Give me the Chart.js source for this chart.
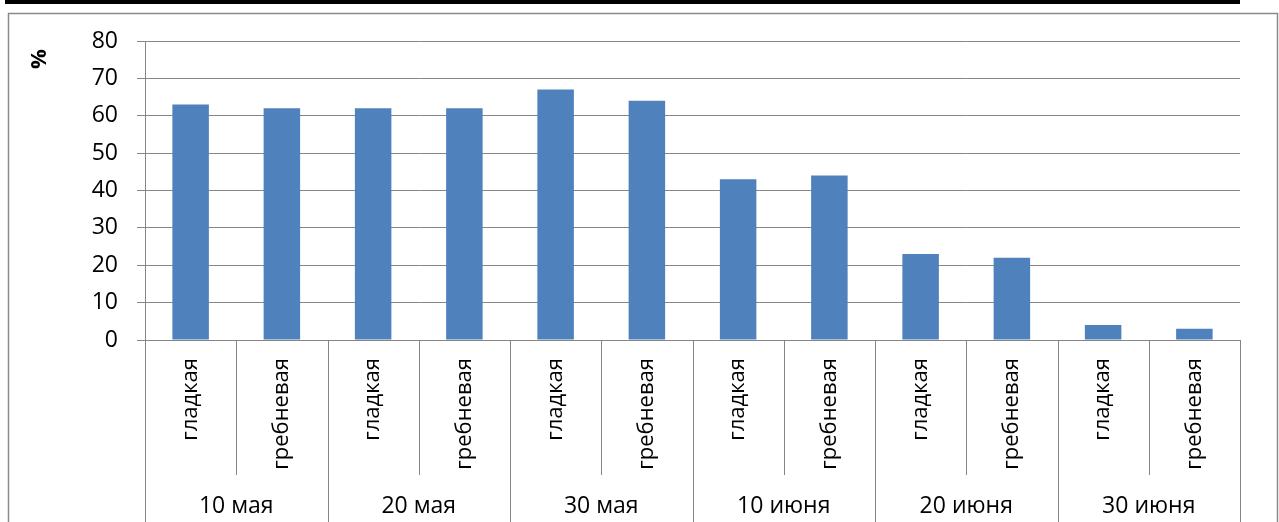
<!DOCTYPE html>
<html>
<head>
<meta charset="utf-8">
<script src="https://cdn.jsdelivr.net/npm/chart.js@4"></script>
<style>
  html, body { margin: 0; padding: 0; background: #fff; }
  #wrap { width: 1279px; height: 522px; }
</style>
</head>
<body>
<div id="wrap"><canvas id="harvestChart" width="1279" height="522"></canvas></div>
<script>
// data
const surfaces = ['гладкая', 'гребневая', 'гладкая', 'гребневая', 'гладкая', 'гребневая',
                  'гладкая', 'гребневая', 'гладкая', 'гребневая', 'гладкая', 'гребневая'];
const dates = ['10 мая', '20 мая', '30 мая', '10 июня', '20 июня', '30 июня'];
const percents = [63, 62, 62, 62, 67, 64, 43, 44, 23, 22, 4, 3];
const yTitle = '%';

const FONT = "'Open Sans', 'Liberation Sans', sans-serif";
const GRID = '#868686';

// frame, group dividers and date labels
const framePlugin = {
    id: 'framePlugin',
    beforeDraw(chart) {
        const c = chart.ctx;
        c.save();
        c.fillStyle = '#fff';
        c.fillRect(0, 0, chart.width, chart.height);
        c.restore();
    },
    afterDraw(chart) {
        const c = chart.ctx;
        const x = chart.scales.x;
        const area = chart.chartArea;
        const half = (x.getPixelForValue(1) - x.getPixelForValue(0)) / 2;
        c.save();
        // outer frame
        c.fillStyle = '#000';
        c.fillRect(5, 0, 1235, 4);
        c.strokeStyle = '#8a8a8a';
        c.lineWidth = 1.5;
        c.beginPath();
        c.moveTo(8.5, chart.height);
        c.lineTo(8.5, 13.5);
        c.lineTo(1277.5, 13.5);
        c.lineTo(1277.5, chart.height);
        c.stroke();

        c.strokeStyle = GRID;
        c.lineWidth = 1;
        for (let k = 0; k <= surfaces.length; k++) {
            const px = Math.round(x.getPixelForValue(k) - half) + 0.5;
            c.beginPath();
            c.moveTo(px, area.bottom);
            c.lineTo(px, k % 2 === 0 ? chart.height : 475);
            c.stroke();
        }
        c.fillStyle = '#000';
        c.font = '23px ' + FONT;
        c.textAlign = 'center';
        c.textBaseline = 'middle';
        dates.forEach((d, g) => {
            const cx = (x.getPixelForValue(2 * g) + x.getPixelForValue(2 * g + 1)) / 2;
            c.fillText(d, cx, 506);
        });
        // axis title
        c.translate(40, 59);
        c.rotate(-Math.PI / 2);
        c.font = 'bold 22px ' + FONT;
        c.fillText(yTitle, 0, 0);
        c.restore();
    }
};

const ctx = document.getElementById('harvestChart').getContext('2d');
const harvestChart = new Chart(ctx, {
    type: 'bar',
    data: {
        labels: surfaces,
        datasets: [{
            data: percents,
            backgroundColor: '#4f81bd',
            borderWidth: 0,
            barPercentage: 0.4,
            categoryPercentage: 1.0
        }]
    },
    options: {
        responsive: false,
        devicePixelRatio: 1,
        animation: false,
        layout: { padding: { left: 0, top: 41, right: 39, bottom: 0 } },
        plugins: {
            legend: { display: false },
            tooltip: { enabled: false }
        },
        scales: {
            x: {
                grid: { display: false },
                border: { display: true, color: GRID },
                ticks: {
                    minRotation: 90,
                    maxRotation: 90,
                    autoSkip: false,
                    padding: 10,
                    color: '#000',
                    font: { family: FONT, size: 22 }
                },
                afterFit(scale) { scale.height = 182; }
            },
            y: {
                min: 0,
                max: 80,
                ticks: {
                    stepSize: 10,
                    padding: 19,
                    color: '#000',
                    font: { family: FONT, size: 23 }
                },
                grid: { color: GRID, lineWidth: 1, tickLength: 8 },
                border: { color: GRID },
                afterFit(scale) { scale.width = 145; }
            }
        }
    },
    plugins: [framePlugin]
});
</script>
</body>
</html>
